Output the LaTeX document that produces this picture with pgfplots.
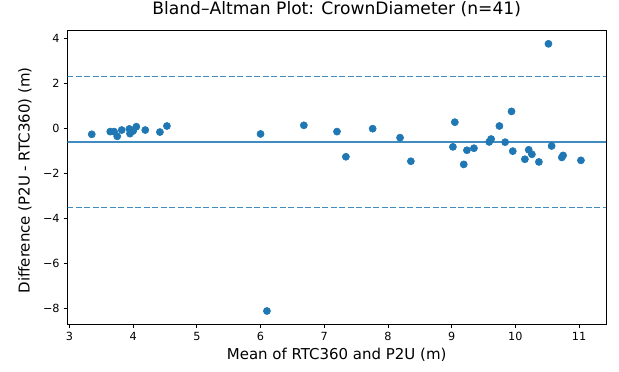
\documentclass[border=0pt]{standalone}
\usepackage{fontspec}
\setmainfont{DejaVu Sans}
\usepackage{pgfplots}
\pgfplotsset{compat=1.18}
\definecolor{mplblue}{HTML}{1F77B4}
\begin{document}
\begin{tikzpicture}
\useasboundingbox (0,0) rectangle (578.8pt,347.8pt);
\begin{axis}[
  at={(62.9pt,44.4pt)}, anchor=south west,
  scale only axis, width=503.8pt, height=275.0pt,
  xmin=2.9655, xmax=11.4245, ymin=-8.73, ymax=4.37,
  xtick={3,4,5,6,7,8,9,10,11},
  ytick={-8,-6,-4,-2,0,2,4},
  yticklabels={−8,−6,−4,−2,0,2,4},
  xtick pos=left, ytick pos=left,
  tick align=outside, major tick length=3.5pt,
  every tick/.style={black, line width=0.8pt},
  axis line style={line width=0.8pt},
  /pgf/number format/assume math mode=true,
  tick label style={font=\fontsize{10.5}{12}\selectfont},
  xticklabel style={inner sep=0pt, yshift=-3.5pt},
  yticklabel style={inner sep=0pt, xshift=-3.5pt},
  title={Bland–Altman Plot: CrownDiameter (n=41)},
  title style={font=\fontsize{16}{19}\selectfont, at={(axis description cs:0.5,1.0338)}, anchor=base, inner sep=0pt},
  xlabel={Mean of RTC360 and P2U (m)},
  xlabel style={font=\fontsize{14}{17}\selectfont, at={(axis description cs:0.5,-0.12)}, anchor=base, inner sep=0pt},
  ylabel={Difference (P2U - RTC360) (m)},
  ylabel style={font=\fontsize{14}{17}\selectfont, at={(axis description cs:-0.070,0.49)}, anchor=base, inner sep=0pt},
]
\addplot[only marks, mark=*, mark size=3.3pt, mplblue, mark options={fill=mplblue, draw=mplblue, line width=0.6pt}] coordinates {
(3.35,-0.26) (3.64,-0.14) (3.70,-0.14) (3.75,-0.35) (3.82,-0.07)
(3.94,-0.02) (3.95,-0.23) (4.00,-0.11) (4.05,0.08) (4.19,-0.07)
(4.42,-0.16) (4.53,0.11) (3.97,-0.15)
(6.00,-0.245) (6.68,0.14) (7.20,-0.14) (7.34,-1.26) (7.76,-0.01)
(8.19,-0.41) (8.36,-1.46) (9.05,0.28) (9.02,-0.82) (9.19,-1.60)
(9.24,-0.97) (9.35,-0.88) (9.59,-0.60) (9.62,-0.47) (9.75,0.11)
(9.84,-0.61) (9.94,0.76) (9.96,-1.01) (10.15,-1.37) (10.21,-0.95)
(10.26,-1.15) (10.37,-1.49) (10.52,3.77) (10.57,-0.78) (10.73,-1.29)
(10.75,-1.20) (11.03,-1.42) (6.10,-8.13)
};
\addplot[mplblue, opacity=0.85, line width=1.3pt] coordinates {(2.9655,-0.60) (11.4245,-0.60)};
\addplot[mplblue, opacity=0.85, line width=1.3pt, dash pattern=on 5.55pt off 2.4pt] coordinates {(2.9655,2.32) (11.4245,2.32)};
\addplot[mplblue, opacity=0.85, line width=1.3pt, dash pattern=on 5.55pt off 2.4pt] coordinates {(2.9655,-3.52) (11.4245,-3.52)};
\end{axis}
\end{tikzpicture}
\end{document}
